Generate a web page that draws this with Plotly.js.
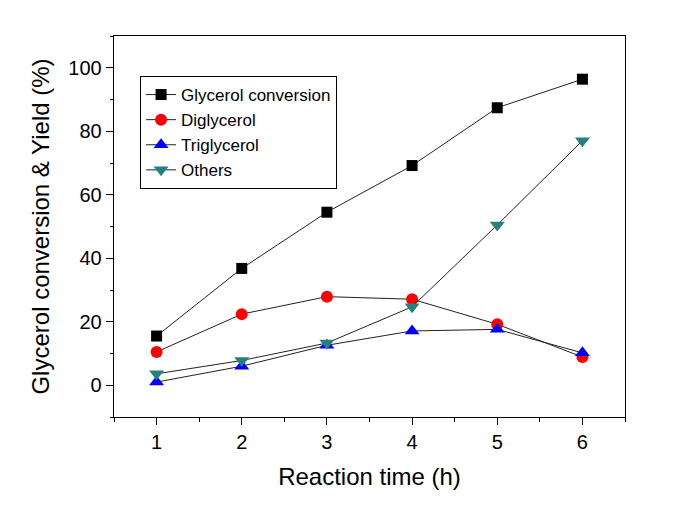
<!DOCTYPE html>
<html>
<head>
<meta charset="utf-8">
<script src="https://cdn.plot.ly/plotly-3.0.1.min.js"></script>
<style>html,body{margin:0;padding:0;background:#fff;}#chart{width:696px;height:507px;}</style>
</head>
<body>
<div id="chart"></div>
<script>
const time = [1, 2, 3, 4, 5, 6];
const glycerolConversion = [15.5, 36.8, 54.5, 69.2, 87.4, 96.4];
const diglycerol = [10.5, 22.4, 27.9, 27.1, 19.2, 8.9];
const triglycerol = [1.0, 6.0, 12.6, 17.1, 17.6, 10.2];
const others = [3.6, 7.8, 13.3, 24.7, 50.5, 77.0];
const seriesNames = ['Glycerol conversion', 'Diglycerol', 'Triglycerol', 'Others'];

const lineStyle = {color: '#222', width: 1};
const mk = (sym, col, size) => ({symbol: sym, color: col, size: size, line: {width: 0}});

const traces = [
  {x: time, y: glycerolConversion, name: seriesNames[0], mode: 'lines+markers', line: lineStyle, marker: mk('square', '#000000', 11)},
  {x: time, y: diglycerol, name: seriesNames[1], mode: 'lines+markers', line: lineStyle, marker: mk('circle', '#ff0000', 12)},
  {x: time, y: triglycerol, name: seriesNames[2], mode: 'lines+markers', line: lineStyle, marker: mk('triangle-up', '#0000ff', 13)},
  {x: time, y: others, name: seriesNames[3], mode: 'lines+markers', line: lineStyle, marker: mk('triangle-down', '#258080', 13)}
];

const fontFam = 'Liberation Sans, Arial, sans-serif';
const layout = {
  width: 696, height: 507,
  margin: {l: 114, r: 71, t: 36, b: 90},
  paper_bgcolor: '#fff', plot_bgcolor: '#fff',
  font: {family: fontFam, color: '#000', size: 20},
  showlegend: true,
  legend: {
    x: 0.051, y: 0.895, xanchor: 'left', yanchor: 'top',
    bordercolor: '#000', borderwidth: 1, bgcolor: '#fff',
    font: {family: fontFam, size: 17, color: '#000'},
    tracegroupgap: 0, itemwidth: 30
  },
  xaxis: {
    range: [0.5, 6.5], dtick: 1, tick0: 1,
    showgrid: false, zeroline: false,
    showline: true, linecolor: '#000', linewidth: 1.3, mirror: true,
    ticks: 'outside', ticklen: 7, tickwidth: 1, tickcolor: '#000',
    minor: {dtick: 0.5, tick0: 0.5, ticks: 'outside', ticklen: 4, tickwidth: 1, tickcolor: '#000', showgrid: false},
    tickfont: {size: 20},
    title: {text: 'Reaction time (h)', font: {size: 24}, standoff: 16}
  },
  yaxis: {
    range: [-10, 110], dtick: 20, tick0: 0,
    showgrid: false, zeroline: false,
    showline: true, linecolor: '#000', linewidth: 1.3, mirror: true,
    ticks: 'outside', ticklen: 7, tickwidth: 1, tickcolor: '#000',
    minor: {dtick: 10, tick0: 0, ticks: 'outside', ticklen: 3, tickwidth: 1, tickcolor: '#000', showgrid: false},
    tickfont: {size: 20},
    title: {text: 'Glycerol conversion &amp; Yield (%)', font: {size: 24}, standoff: 12}
  }
};

Plotly.newPlot('chart', traces, layout, {displayModeBar: false, staticPlot: true});
</script>
</body>
</html>
